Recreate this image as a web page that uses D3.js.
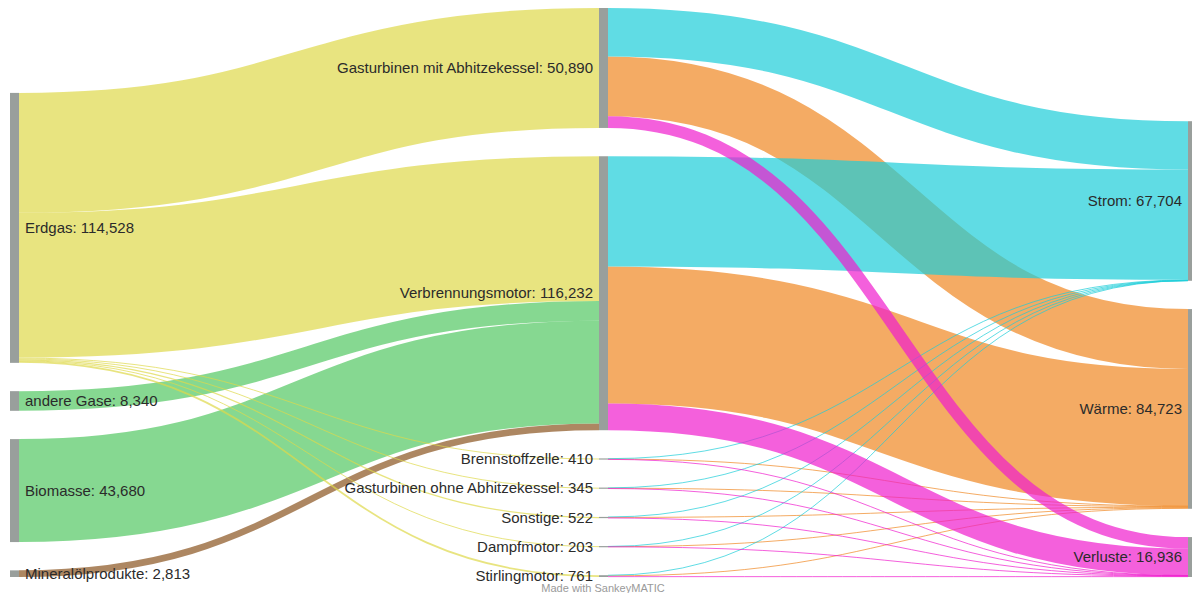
<!DOCTYPE html>
<html>
<head>
<meta charset="utf-8">
<script src="https://cdn.jsdelivr.net/npm/d3@7"></script>
<style>
  html, body { margin: 0; padding: 0; background: #fff; }
  svg { display: block; }
  text { font-family: "Liberation Sans", Arial, Helvetica, sans-serif; }
</style>
</head>
<body>
<svg id="chart" width="1192" height="593"></svg>
<script>
// ---- data ----
const nodeNames = [
  "Erdgas", "andere Gase", "Biomasse", "Mineralölprodukte",
  "Gasturbinen mit Abhitzekessel", "Verbrennungsmotor", "Brennstoffzelle",
  "Gasturbinen ohne Abhitzekessel", "Sonstige", "Dampfmotor", "Stirlingmotor",
  "Strom", "Wärme", "Verluste"
];
const flowSources = [
  "Erdgas", "Erdgas", "Erdgas", "Erdgas", "Erdgas", "Erdgas", "Erdgas",
  "andere Gase", "Biomasse", "Mineralölprodukte",
  "Gasturbinen mit Abhitzekessel", "Gasturbinen mit Abhitzekessel", "Gasturbinen mit Abhitzekessel",
  "Verbrennungsmotor", "Verbrennungsmotor", "Verbrennungsmotor",
  "Brennstoffzelle", "Brennstoffzelle", "Brennstoffzelle",
  "Gasturbinen ohne Abhitzekessel", "Gasturbinen ohne Abhitzekessel", "Gasturbinen ohne Abhitzekessel",
  "Sonstige", "Sonstige", "Sonstige",
  "Dampfmotor", "Dampfmotor", "Dampfmotor",
  "Stirlingmotor", "Stirlingmotor", "Stirlingmotor"
];
const flowTargets = [
  "Gasturbinen mit Abhitzekessel", "Verbrennungsmotor", "Brennstoffzelle",
  "Gasturbinen ohne Abhitzekessel", "Sonstige", "Dampfmotor", "Stirlingmotor",
  "Verbrennungsmotor", "Verbrennungsmotor", "Verbrennungsmotor",
  "Strom", "Wärme", "Verluste",
  "Strom", "Wärme", "Verluste",
  "Strom", "Wärme", "Verluste",
  "Strom", "Wärme", "Verluste",
  "Strom", "Wärme", "Verluste",
  "Strom", "Wärme", "Verluste",
  "Strom", "Wärme", "Verluste"
];
const flowValues = [
  50890, 61397, 410, 345, 522, 203, 761,
  8340, 43680, 2813,
  20530, 25440, 4920,
  46770, 58120, 11342,
  150, 160, 100,
  90, 180, 75,
  80, 300, 142,
  24, 130, 49,
  60, 393, 308
];
const colorKeys = ["Erdgas", "andere Gase", "Biomasse", "Mineralölprodukte", "Strom", "Wärme", "Verluste"];
const colorValues = ["#ded84a", "#52c763", "#52c763", "#8a5420", "#1ccdd8", "#ef8822", "#ef1ccd"];
const drawOrder = ["Mineralölprodukte", "Biomasse", "andere Gase", "Erdgas", "Wärme", "Strom", "Verluste"];

// ---- layout ----
const chartTop = 8, chartBottom = 577, nodeW = 9, pad = 28.3;
const linkOpacity = 0.7;

const nodes = nodeNames.map((name, i) => ({ name, index: i, in: [], out: [] }));
const byName = new Map(nodes.map(n => [n.name, n]));
const links = flowValues.map((v, i) => {
  const l = { source: byName.get(flowSources[i]), target: byName.get(flowTargets[i]), value: v };
  l.source.out.push(l); l.target.in.push(l);
  return l;
});
nodes.forEach(n => {
  n.value = Math.max(d3.sum(n.in, l => l.value), d3.sum(n.out, l => l.value));
});
function depthOf(n) {
  if (n.depth !== undefined) return n.depth;
  n.depth = n.in.length ? d3.max(n.in, l => depthOf(l.source) + 1) : 0;
  return n.depth;
}
nodes.forEach(depthOf);
const columns = d3.groups(nodes, n => n.depth).sort((a, b) => a[0] - b[0]).map(d => d[1]);
const maxDepth = columns.length - 1;

const ky = d3.min(columns, col => (chartBottom - chartTop - (col.length - 1) * pad) / d3.sum(col, n => n.value));
const yScale = d3.scaleLinear().domain([0, 1]).range([0, ky]);
const xScale = d3.scaleLinear().domain([0, maxDepth]).range([10, 1188]);

columns.forEach(col => {
  const total = d3.sum(col, n => yScale(n.value)) + (col.length - 1) * pad;
  let y = chartBottom - total;
  col.forEach(n => {
    n.x0 = xScale(n.depth); n.x1 = n.x0 + nodeW;
    n.y0 = y; n.y1 = y + yScale(n.value);
    y = n.y1 + pad;
  });
});
nodes.forEach(n => {
  let y = n.y0;
  n.out.slice().sort((a, b) => a.target.y0 - b.target.y0).forEach(l => {
    l.width = yScale(l.value); l.y0 = y + l.width / 2; y += l.width;
  });
  y = n.y0;
  n.in.slice().sort((a, b) => a.source.y0 - b.source.y0).forEach(l => {
    l.y1 = y + l.width / 2; y += l.width;
  });
});

const colorScale = d3.scaleOrdinal().domain(colorKeys).range(colorValues);
links.forEach(l => {
  l.key = l.source.depth === 0 ? l.source.name : l.target.name;
});
const sortedLinks = links.slice().sort((a, b) => drawOrder.indexOf(a.key) - drawOrder.indexOf(b.key));

const svg = d3.select("#chart");
const linkPath = d3.linkHorizontal()
  .source(l => [l.source.x1, l.y0])
  .target(l => [l.target.x0, l.y1]);

svg.append("g")
  .attr("fill", "none")
  .selectAll("path")
  .data(sortedLinks)
  .join("path")
  .attr("d", linkPath)
  .attr("stroke", l => colorScale(l.key))
  .attr("stroke-opacity", linkOpacity)
  .attr("stroke-width", l => Math.max(1, l.width));

svg.append("g")
  .selectAll("rect")
  .data(nodes)
  .join("rect")
  .attr("x", n => n.x0)
  .attr("y", n => n.y1 - n.y0 < 1.2 ? (n.y0 + n.y1) / 2 - 0.6 : n.y0)
  .attr("width", nodeW)
  .attr("height", n => Math.max(1.2, n.y1 - n.y0))
  .attr("fill", "#999f9c");

const fmt = d3.format(",");
svg.append("g")
  .selectAll("text")
  .data(nodes)
  .join("text")
  .attr("x", n => n.depth === 0 ? n.x1 + 6 : n.x0 - 6)
  .attr("y", n => (n.y0 + n.y1) / 2)
  .attr("dy", "0.35em")
  .attr("text-anchor", n => n.depth === 0 ? "start" : "end")
  .attr("font-size", 15)
  .attr("fill", "#2b2b2b")
  .text(n => `${n.name}: ${fmt(n.value)}`);

svg.append("text")
  .attr("x", 603)
  .attr("y", 592)
  .attr("text-anchor", "middle")
  .attr("font-size", 11)
  .attr("fill", "#9a9a9a")
  .text("Made with SankeyMATIC");
</script>
</body>
</html>
